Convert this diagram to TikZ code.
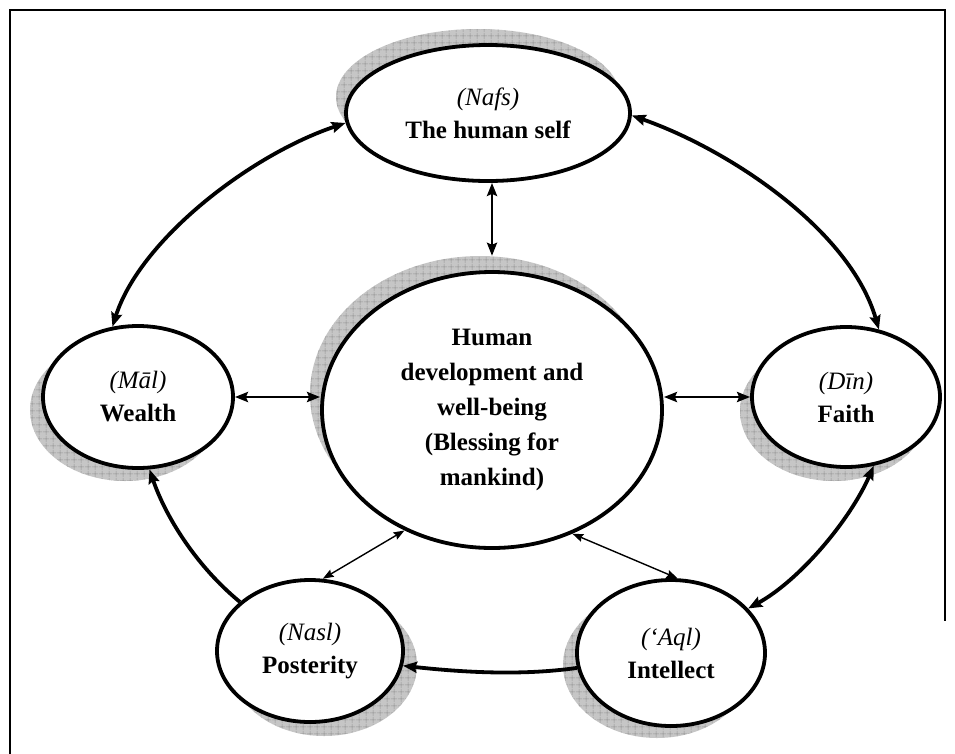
\documentclass[tikz,border=0pt]{standalone}
\usepackage{fontspec}
\setmainfont{Liberation Serif}
\usetikzlibrary{shapes.geometric,arrows.meta,patterns.meta}

\tikzset{
  oval/.style={ellipse, draw=black, line width=3.8pt, fill=white, inner sep=0pt,
    align=center, text=black, font=\fontsize{25}{33}\selectfont\bfseries},
  shadowoval/.style={ellipse, draw=none, inner sep=0pt, fill=gray!45,
    postaction={pattern={Hatch[angle=0,distance=6.5pt,line width=0.5pt]}, pattern color=gray!85}},
  heavylink/.style={line width=3.8pt, {Stealth[length=14pt,width=11pt,inset=2pt]}-{Stealth[length=14pt,width=11pt,inset=2pt]}},
  heavyone/.style={line width=3.8pt, -{Stealth[length=14pt,width=11pt,inset=2pt]}},
  midlink/.style={line width=2.8pt, {Stealth[length=13pt,width=10pt,inset=2pt]}-{Stealth[length=13pt,width=10pt,inset=2pt]}},
  thinlink/.style={line width=1.4pt, {Stealth[length=11pt,width=8pt,inset=1.5pt]}-{Stealth[length=11pt,width=8pt,inset=1.5pt]}},
  frameline/.style={line width=2.4pt, line cap=rect},
}

\newcommand{\arab}[1]{{\normalfont\itshape #1}}

\begin{document}
\begin{tikzpicture}[x=1pt,y=-1pt]
\useasboundingbox (0,0) rectangle (955,753);

% page frame
\draw[frameline] (10,753) -- (10,10) -- (945,10) -- (945,620);

% shadows behind the ovals
\node[shadowoval, minimum width=284pt, minimum height=136pt] (nafsshade) at (478,97) {};
\node[shadowoval, minimum width=340pt, minimum height=276pt] (coreshade) at (480,394) {};
\node[shadowoval, minimum width=190pt, minimum height=142pt] (malshade)  at (125,410) {};
\node[shadowoval, minimum width=188pt, minimum height=140pt] (dinshade)  at (834,411) {};
\node[shadowoval, minimum width=186pt, minimum height=142pt] (naslshade) at (324,665) {};
\node[shadowoval, minimum width=188pt, minimum height=146pt] (aqlshade)  at (657,665) {};

% ovals
\node[oval, minimum width=284pt, minimum height=136pt] (nafs) at (488,113)
  {\arab{(Nafs)}\\The human self};
\node[oval, minimum width=340pt, minimum height=276pt,
      font=\fontsize{25}{35}\selectfont\bfseries] (core) at (492,410)
  {Human\\development and\\well-being\\(Blessing for\\mankind)};
\node[oval, minimum width=190pt, minimum height=142pt] (mal) at (138,397)
  {\arab{(Māl)}\\Wealth};
\node[oval, minimum width=188pt, minimum height=140pt] (din) at (846,397)
  {\arab{(Dīn)}\\Faith};
\node[oval, minimum width=186pt, minimum height=142pt] (nasl) at (310,651)
  {\arab{(Nasl)}\\Posterity};
\node[oval, minimum width=188pt, minimum height=146pt] (aql) at (671,653)
  {\arab{(‘Aql)}\\Intellect};

% outer ring
\draw[heavylink] (nafs.184) .. controls (250,155) and (140,240) .. (mal.110);
\draw[heavylink] (nafs.359) .. controls (730,150) and (850,230) .. (din.64);
\draw[heavylink] (din.292) .. controls (850,520) and (800,580) .. (aql.30);
\draw[heavyone] (aql.189) .. controls (520,676) and (460,672) .. (nasl.351);
\draw[heavyone] (nasl.145) .. controls (195,565) and (165,515) .. (mal.279);

% spokes to the centre
\draw[midlink] (nafs.south -| core.north) -- (coreshade.north -| core.north);
\draw[midlink] (mal.east) -- (mal.east -| core.west);
\draw[midlink] (din.west -| core.east) -- (din.west);
\draw[thinlink] (core.234) -- (nasl.80);
\draw[thinlink] (core.303) -- (aql.85);
\end{tikzpicture}
\end{document}
